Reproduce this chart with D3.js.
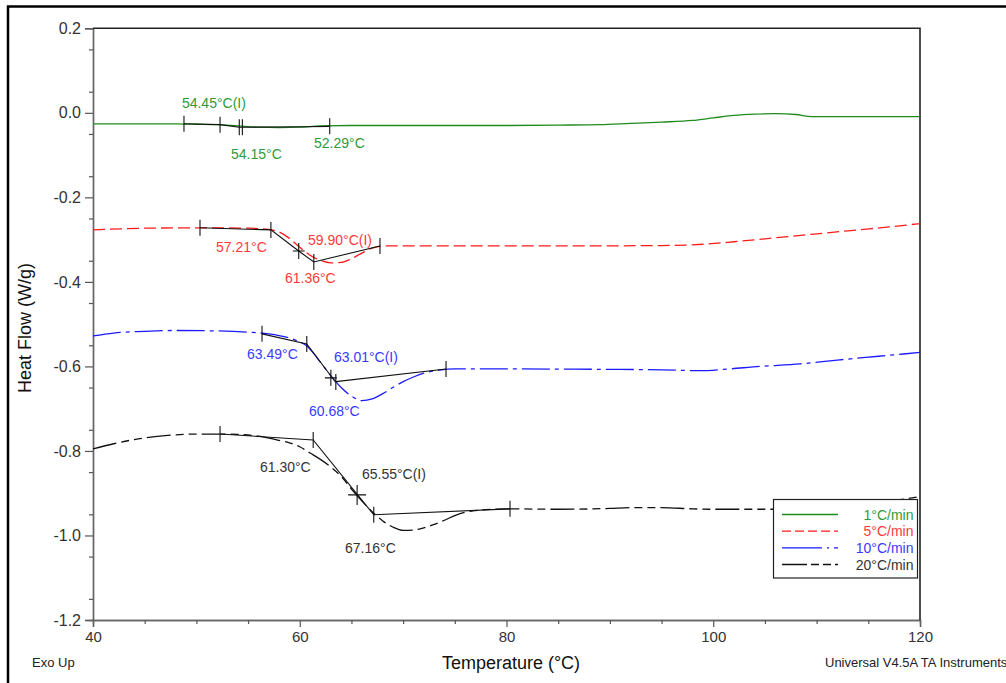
<!DOCTYPE html>
<html><head><meta charset="utf-8">
<script src="https://cdn.jsdelivr.net/npm/d3@7"></script>
<style>
body{margin:0;background:#fff;}
svg{display:block;font-family:"Liberation Sans",Arial,Helvetica,sans-serif;}
</style>
</head><body>
<svg id="chart" width="1006" height="683"></svg>
<script>
// ---------------- DATA ----------------
const seriesNames = ["1°C/min", "5°C/min", "10°C/min", "20°C/min"];

// [temperature °C, heat flow W/g]
const flow1 = [[40,-0.026],[45,-0.026],[48,-0.026],[50,-0.027],[52,-0.028],[54,-0.031],[56,-0.034],[58,-0.035],[60,-0.034],[62,-0.031],[65,-0.030],[70,-0.030],[75,-0.030],[80,-0.030],[85,-0.029],[89,-0.028],[92,-0.025],[95,-0.022],[98,-0.018],[100,-0.012],[102,-0.006],[104,-0.003],[106,-0.002],[108,-0.004],[109.5,-0.009],[112,-0.009],[120,-0.009]];
const flow5 = [[40,-0.277],[45,-0.273],[50,-0.272],[55,-0.273],[57,-0.276],[58,-0.282],[59,-0.297],[60,-0.318],[61,-0.337],[62,-0.349],[63,-0.355],[64,-0.354],[65,-0.345],[66,-0.332],[67,-0.320],[68,-0.315],[75,-0.315],[85,-0.315],[95,-0.314],[99,-0.311],[102,-0.305],[105,-0.298],[108,-0.291],[111,-0.284],[114,-0.277],[117,-0.270],[120,-0.262]];
const flow10 = [[40,-0.528],[42,-0.521],[45,-0.517],[48,-0.515],[52,-0.516],[55,-0.519],[57,-0.523],[58,-0.527],[59,-0.533],[60,-0.542],[60.6,-0.550],[61.3,-0.568],[62,-0.590],[63,-0.622],[64,-0.650],[65,-0.670],[66,-0.681],[67,-0.677],[68,-0.665],[69,-0.650],[70,-0.636],[71,-0.625],[72,-0.616],[73.5,-0.609],[75,-0.606],[80,-0.606],[90,-0.607],[95,-0.608],[98.7,-0.610],[101,-0.607],[104.5,-0.600],[108.4,-0.594],[112,-0.585],[116,-0.576],[120,-0.567]];
const flow20 = [[40,-0.795],[42,-0.783],[44,-0.773],[46,-0.766],[48,-0.762],[50,-0.760],[52,-0.760],[54,-0.761],[56,-0.765],[58,-0.775],[59,-0.781],[60,-0.790],[61,-0.805],[62,-0.820],[63,-0.838],[64,-0.860],[65,-0.890],[66,-0.918],[67,-0.944],[68,-0.965],[69,-0.980],[70,-0.988],[71,-0.987],[72,-0.982],[73,-0.974],[74,-0.964],[75,-0.953],[76,-0.945],[77,-0.941],[78.5,-0.938],[80,-0.937],[85,-0.938],[90,-0.936],[92,-0.934],[95,-0.934],[98,-0.937],[100,-0.938],[105,-0.938],[110,-0.935],[115,-0.925],[120,-0.908]];

// analysis construction lines (tangents) per series
const tangents1 = [[[48.8,-0.026],[52.29,-0.028],[54.15,-0.034],[60.3,-0.033],[62.9,-0.032]]];
const tangents5 = [[[50.35,-0.272],[57.21,-0.277],[59.90,-0.327],[61.36,-0.353],[67.76,-0.315]]];
const tangents10 = [[[56.35,-0.523],[60.68,-0.547],[63.49,-0.638]],[[63.49,-0.636],[74.15,-0.606]]];
const tangents20 = [[[52.29,-0.760],[61.30,-0.774],[67.16,-0.951],[80.34,-0.937]]];

// marker points [T, value, isInflection]
const marks1 = [[48.8,-0.026,0],[52.29,-0.028,0],[54.15,-0.034,0],[54.45,-0.034,0],[62.9,-0.032,0]];
const marks5 = [[50.35,-0.272,0],[57.21,-0.277,0],[59.90,-0.327,1],[61.36,-0.353,0],[67.76,-0.315,0]];
const marks10 = [[56.35,-0.523,0],[60.68,-0.547,0],[63.01,-0.627,1],[63.49,-0.637,0],[74.15,-0.606,0]];
const marks20 = [[52.29,-0.760,0],[61.30,-0.774,0],[65.55,-0.904,2],[67.16,-0.951,0],[80.34,-0.937,0]];

// annotation texts, anchored at [T, value]
const labels1 = [["54.45°C(I)",48.6,0.011],["54.15°C",53.35,-0.109],["52.29°C",61.38,-0.083]];
const labels5 = [["57.21°C",51.9,-0.329],["59.90°C(I)",60.8,-0.313],["61.36°C",58.57,-0.403]];
const labels10 = [["63.49°C",54.9,-0.582],["63.01°C(I)",63.31,-0.589],["60.68°C",60.89,-0.717]];
const labels20 = [["61.30°C",56.15,-0.850],["65.55°C(I)",66.02,-0.866],["67.16°C",64.38,-1.041]];

const xTicks = [40, 60, 80, 100, 120];
const xMinor = [45, 50, 55, 65, 70, 75, 85, 90, 95, 105, 110, 115];
const yTicks = [0.2, 0.0, -0.2, -0.4, -0.6, -0.8, -1.0, -1.2];
const yMinor = d3.range(-1.15, 0.2, 0.05).filter(v => Math.abs(Math.round(v*10) - v*10) > 0.2);

// ---------------- STYLE ----------------
const colors = ["#1f8c1f", "#ff1a1a", "#1a1aff", "#111111"];
const textColors = ["#2f9a3a", "#ff3a3a", "#3a3aff", "#333333"];
const dashes = ["none", "12,5", "28,5,4,5", "24,5,8,5,8,5"];
const legendDashes = ["none", "9,4", "40,5,2,5", "25,4,8,4,8,4"];

const W = 1006, H = 683;
const L = 93, R = 920, T = 28.3, B = 620;

const svg = d3.select("#chart");
svg.append("rect").attr("width", W).attr("height", H).attr("fill", "#fff");

const x = d3.scaleLinear().domain([40, 120]).range([L, R]);
const y = d3.scaleLinear().domain([-1.2, 0.2]).range([B, T]);

// outer frame
svg.append("path").attr("d", `M8,683 L8,6.5 L${W},6.5`).attr("fill", "none")
  .attr("stroke", "#000").attr("stroke-width", 2.5);

// axes
const gy = svg.append("g").attr("transform", `translate(${L},0)`)
  .call(d3.axisLeft(y).tickValues(yTicks).tickSize(8).tickPadding(4).tickFormat(d => d.toFixed(1)));
const gyMinor = svg.append("g").attr("transform", `translate(${L},0)`)
  .call(d3.axisLeft(y).tickValues(yMinor).tickSize(4).tickFormat(""));
const gx = svg.append("g").attr("transform", `translate(0,${B})`)
  .call(d3.axisBottom(x).tickValues(xTicks).tickSize(7).tickPadding(4).tickFormat(d3.format("d")));
const gxMinor = svg.append("g").attr("transform", `translate(0,${B})`)
  .call(d3.axisBottom(x).tickValues(xMinor).tickSize(4).tickFormat(""));
[gy, gyMinor, gx, gxMinor].forEach(g => {
  g.selectAll("path.domain").attr("stroke", "#666").attr("stroke-width", 1.4);
  g.selectAll(".tick line").attr("stroke", "#555").attr("stroke-width", 1.2);
  g.selectAll("text").attr("fill", "#333").style("font-family", "'Liberation Sans',Arial,sans-serif");
});
gy.selectAll("text").style("font-size", "16px");
gx.selectAll("text").style("font-size", "15px");

// top and right borders
svg.append("path").attr("d", `M${L},${T} L${R},${T} L${R},${B}`).attr("fill", "none")
  .attr("stroke", "#222").attr("stroke-width", 1.6);

// curves
const line = d3.line().x(d => x(d[0])).y(d => y(d[1])).curve(d3.curveMonotoneX);
const allFlows = [flow1, flow5, flow10, flow20];
allFlows.forEach((f, i) => {
  svg.append("path").datum(f).attr("d", line).attr("fill", "none")
    .attr("stroke", colors[i]).attr("stroke-width", 1.3)
    .attr("stroke-dasharray", dashes[i]);
});

// tangents
const straight = d3.line().x(d => x(d[0])).y(d => y(d[1]));
[tangents1, tangents5, tangents10, tangents20].forEach(ts => {
  ts.forEach(t => svg.append("path").datum(t).attr("d", straight).attr("fill", "none")
    .attr("stroke", "#111").attr("stroke-width", 1.1));
});

// marks
[marks1, marks5, marks10, marks20].forEach(ms => {
  ms.forEach(m => {
    const cx = x(m[0]), cy = y(m[1]);
    const vs = m[2] === 2 ? 10 : 8;
    let d = `M${cx},${cy - vs} L${cx},${cy + vs}`;
    if (m[2] === 1) d += ` M${cx - 6},${cy} L${cx + 6},${cy}`;
    if (m[2] === 2) d += ` M${cx - 9},${cy} L${cx + 9},${cy}`;
    svg.append("path").attr("d", d).attr("stroke", "#111").attr("stroke-width", 1.1);
  });
});

// labels
[labels1, labels5, labels10, labels20].forEach((ls, i) => {
  ls.forEach(l => {
    svg.append("text").attr("x", x(l[1])).attr("y", y(l[2]))
      .attr("fill", textColors[i]).style("font-size", "14px").text(l[0]);
  });
});

// axis titles and notes
svg.append("text").attr("transform", "translate(31,328) rotate(-90)")
  .attr("text-anchor", "middle").style("font-size", "18px").attr("fill", "#111").text("Heat Flow (W/g)");
svg.append("text").attr("x", 511).attr("y", 669).attr("text-anchor", "middle")
  .style("font-size", "18px").attr("fill", "#111").text("Temperature (°C)");
svg.append("text").attr("x", 32).attr("y", 667).style("font-size", "13px").attr("fill", "#222").text("Exo Up");
svg.append("text").attr("x", 825).attr("y", 667).style("font-size", "13px").attr("fill", "#222").text("Universal V4.5A TA Instruments");

// legend
const lg = svg.append("g");
lg.append("rect").attr("x", 773.5).attr("y", 499.5).attr("width", 144).attr("height", 78.5)
  .attr("fill", "#fff").attr("stroke", "#222").attr("stroke-width", 1.2);
const rowY = d3.scalePoint().domain(seriesNames).range([514.5, 564.5]);
seriesNames.forEach((n, i) => {
  const ry = rowY(n);
  lg.append("line").attr("x1", 782).attr("x2", 838).attr("y1", ry).attr("y2", ry)
    .attr("stroke", colors[i]).attr("stroke-width", 1.3).attr("stroke-dasharray", legendDashes[i]);
  lg.append("text").attr("x", 913.5).attr("y", ry + 5).attr("text-anchor", "end")
    .attr("fill", textColors[i]).style("font-size", "14px").text(n);
});
</script>
</body></html>
